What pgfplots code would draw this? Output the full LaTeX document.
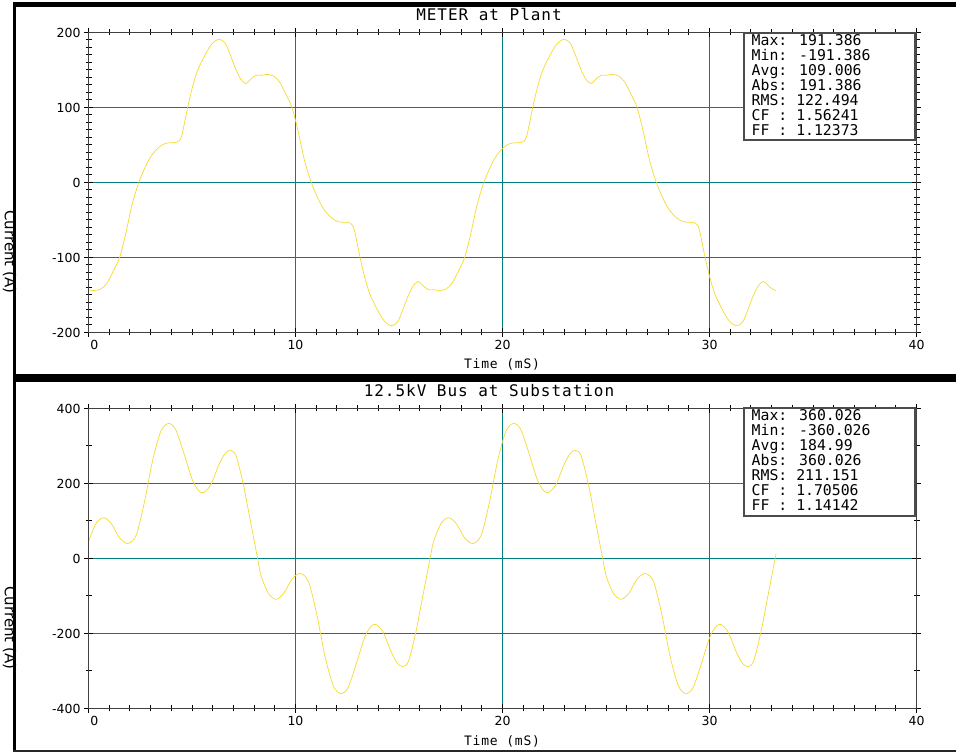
\documentclass[border=0pt]{standalone}
\usepackage{fontspec}
\setmainfont{DejaVu Sans}
\newfontfamily\monoT{DejaVu Sans Mono}[LetterSpace=6]
\newfontfamily\monoS{DejaVu Sans Mono}
\usepackage{pgfplots}
\pgfplotsset{compat=1.18}
\definecolor{gridteal}{RGB}{0,128,128}
\definecolor{wave}{RGB}{245,218,45}
\pgfplotsset{myax/.style={
  width=828pt, height=300pt, scale only axis, anchor=south west,
  xmin=0, xmax=40, xtick={0,10,20,30,40}, minor x tick num=9,
  xticklabels={{\makebox[0pt][l]{\kern1.8pt 0}},10,20,30,40},
  axis on top,
  axis line style={black!75, line width=1pt},
  tick style={black, line width=1pt},
  tick align=center, major tick length=9pt, minor tick length=6pt,
  ticklabel style={font=\fontsize{12.5}{13}\selectfont},
  /pgf/number format/assume math mode=true,
  scaled ticks=false, clip=true,
  gl/.style={color=gridteal, line width=1pt, forget plot},
}}
\begin{document}
\begin{tikzpicture}[x=1pt,y=1pt]
\useasboundingbox (0,0) rectangle (956,752);
% ---------- panel 1 ----------
\begin{axis}[myax, at={(88.5pt,419.5pt)},
  ymin=-200, ymax=200, ytick={-200,-100,0,100,200}, minor y tick num=9]
\addplot[gl] coordinates {(10,-200) (10,200)};
\addplot[gl] coordinates {(20,-200) (20,200)};
\addplot[gl] coordinates {(30,-200) (30,200)};
\addplot[gl] coordinates {(0,-100) (40,-100)};
\addplot[gl] coordinates {(0,0) (40,0)};
\addplot[gl] coordinates {(0,100) (40,100)};
\addplot[wave, line width=0.7pt, smooth] table {
t v
0 -143
0.3 -144
0.6 -142
0.9 -134
1.2 -118
1.5 -100
1.8 -68
2.1 -30
2.43 0
2.8 24
3.1 38
3.4 47
3.7 52
4.0 53
4.3 54
4.5 62
4.75 95
5.0 125
5.25 148
5.5 163
5.75 176
6.0 186
6.3 191
6.6 186
6.85 170
7.1 152
7.35 138
7.6 132
7.85 138
8.1 143
8.33 143
8.63 144
8.93 142
9.23 134
9.53 118
9.83 100
10.13 68
10.43 30
10.76 0
11.13 -24
11.43 -38
11.73 -47
12.03 -52
12.33 -53
12.63 -54
12.83 -62
13.08 -95
13.33 -125
13.58 -148
13.83 -163
14.08 -176
14.33 -186
14.63 -191
14.93 -186
15.18 -170
15.43 -152
15.68 -138
15.93 -132
16.18 -138
16.43 -143
16.67 -143
16.97 -144
17.27 -142
17.57 -134
17.87 -118
18.17 -100
18.47 -68
18.77 -30
19.1 0
19.47 24
19.77 38
20.07 47
20.37 52
20.67 53
20.97 54
21.17 62
21.42 95
21.67 125
21.92 148
22.17 163
22.42 176
22.67 186
22.97 191
23.27 186
23.52 170
23.77 152
24.02 138
24.27 132
24.52 138
24.77 143
25.0 143
25.3 144
25.6 142
25.9 134
26.2 118
26.5 100
26.8 68
27.1 30
27.43 0
27.8 -24
28.1 -38
28.4 -47
28.7 -52
29.0 -53
29.3 -54
29.5 -62
29.75 -95
30.0 -125
30.25 -148
30.5 -163
30.75 -176
31.0 -186
31.3 -191
31.6 -186
31.85 -170
32.1 -152
32.35 -138
32.6 -132
32.85 -138
33.1 -143
33.22 -144
};
\end{axis}
% ---------- panel 2 ----------
\begin{axis}[myax, at={(88.5pt,43.5pt)},
  ymin=-400, ymax=400, ytick={-400,-200,0,200,400}, minor y tick num=1]
\addplot[gl] coordinates {(10,-400) (10,400)};
\addplot[gl] coordinates {(20,-400) (20,400)};
\addplot[gl] coordinates {(30,-400) (30,400)};
\addplot[gl] coordinates {(0,-200) (40,-200)};
\addplot[gl] coordinates {(0,0) (40,0)};
\addplot[gl] coordinates {(0,200) (40,200)};
\addplot[wave, line width=0.7pt, smooth] table {
t v
0 45
0.35 92
0.72 109
1.1 93
1.5 55
1.9 40
2.3 62
2.7 150
3.1 262
3.5 340
3.86 360
4.2 345
4.6 282
5.0 212
5.3 182
5.55 176
5.9 196
6.3 250
6.6 280
6.85 288
7.12 275
7.47 200
7.82 100
8.17 0
8.33 -45
8.68 -92
9.05 -109
9.43 -93
9.83 -55
10.23 -40
10.63 -62
11.03 -150
11.43 -262
11.83 -340
12.19 -360
12.53 -345
12.93 -282
13.33 -212
13.63 -182
13.88 -176
14.23 -196
14.63 -250
14.93 -280
15.18 -288
15.45 -275
15.8 -200
16.15 -100
16.5 0
16.67 45
17.02 92
17.39 109
17.77 93
18.17 55
18.57 40
18.97 62
19.37 150
19.77 262
20.17 340
20.53 360
20.87 345
21.27 282
21.67 212
21.97 182
22.22 176
22.57 196
22.97 250
23.27 280
23.52 288
23.79 275
24.14 200
24.49 100
24.84 0
25.0 -45
25.35 -92
25.72 -109
26.1 -93
26.5 -55
26.9 -40
27.3 -62
27.7 -150
28.1 -262
28.5 -340
28.86 -360
29.2 -345
29.6 -282
30.0 -212
30.3 -182
30.55 -176
30.9 -196
31.3 -250
31.6 -280
31.85 -288
32.12 -275
32.47 -200
32.82 -100
33.17 0
33.22 12
};
\end{axis}
% ---------- titles and labels ----------
\node[font={\fontsize{16}{17}\selectfont\monoT}] at (489,737) {METER at Plant};
\node[font={\fontsize{16}{17}\selectfont\monoT}] at (489,361) {12.5kV Bus at Substation};
\node[font={\fontsize{13}{14}\selectfont\monoT}] at (502,388) {Time (mS)};
\node[font={\fontsize{13}{14}\selectfont\monoT}] at (502,11) {Time (mS)};
\node[font={\fontsize{15}{16}\selectfont}, rotate=-90, anchor=north, inner sep=0pt] at (16.5,500) {Current (A)};
\node[font={\fontsize{15}{16}\selectfont}, rotate=-90, anchor=north, inner sep=0pt] at (16.5,124) {Current (A)};
% ---------- statistics boxes ----------
\draw[black!70, line width=1.2pt, fill=white] (744,719) rectangle (915,612);
\begin{scope}[every node/.style={anchor=base west, inner sep=0pt, font={\fontsize{14.8}{15}\selectfont\monoS}}]
\node at (751.5,706.3) {Max: 191.386};
\node at (751.5,691.3) {Min: -191.386};
\node at (751.5,676.3) {Avg: 109.006};
\node at (751.5,661.3) {Abs: 191.386};
\node at (751.5,646.3) {RMS: 122.494};
\node at (751.5,631.3) {CF : 1.56241};
\node at (751.5,616.3) {FF : 1.12373};
\end{scope}
\draw[black!70, line width=1.2pt, fill=white] (744,344) rectangle (915,236);
\begin{scope}[every node/.style={anchor=base west, inner sep=0pt, font={\fontsize{14.8}{15}\selectfont\monoS}}]
\node at (751.5,331.3) {Max: 360.026};
\node at (751.5,316.3) {Min: -360.026};
\node at (751.5,301.3) {Avg: 184.99};
\node at (751.5,286.3) {Abs: 360.026};
\node at (751.5,271.3) {RMS: 211.151};
\node at (751.5,256.3) {CF : 1.70506};
\node at (751.5,241.3) {FF : 1.14142};
\end{scope}
% ---------- panel frames ----------
\fill[black] (12.7,745.3) rectangle (956,750.3);
\fill[black] (12.7,750.3) rectangle (16,370);
\fill[black] (12.7,378) rectangle (956,370);
\fill[black] (12.7,370) rectangle (15.5,0);
\fill[black!85] (12.7,0) rectangle (956,2.2);
\end{tikzpicture}
\end{document}
